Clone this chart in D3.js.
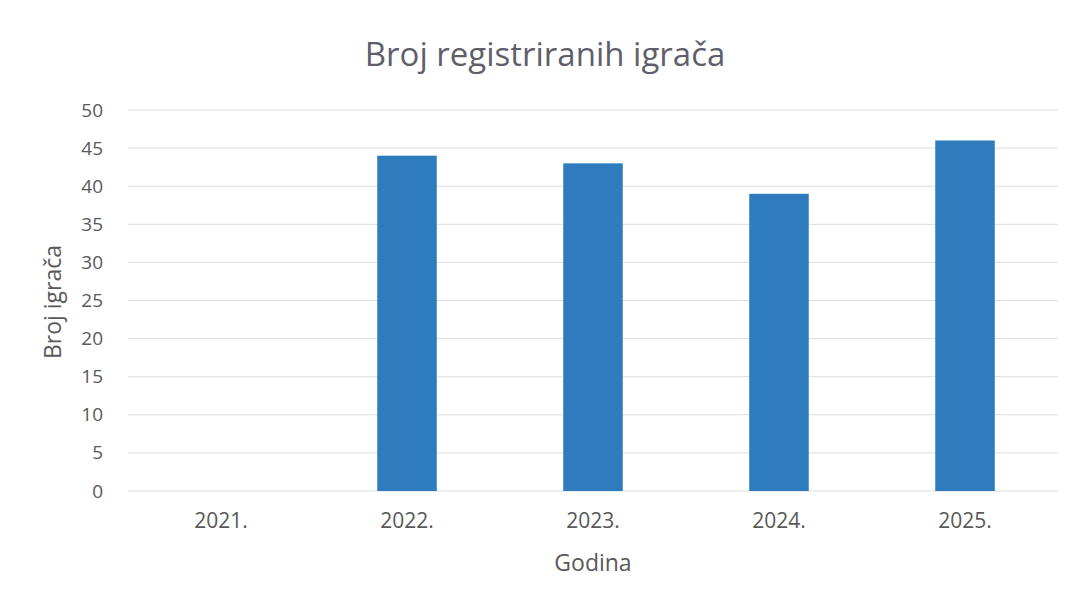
<!DOCTYPE html>
<html><head><meta charset="utf-8">
<script src="https://cdn.jsdelivr.net/npm/d3@7"></script>
<style>body{margin:0;background:#fff;}svg{display:block;}</style>
</head><body>
<script>
const categories = ["2021.", "2022.", "2023.", "2024.", "2025."];
const values = [0, 44, 43, 39, 46];
const yTicks = [0, 5, 10, 15, 20, 25, 30, 35, 40, 45, 50];
const title = "Broj registriranih igrača";
const xTitle = "Godina";
const yTitle = "Broj igrača";

const W = 1079, H = 608;
const m = {left: 128, right: 21, top: 110, bottom: 117};
const svg = d3.select("body").append("svg").attr("width", W).attr("height", H);
const font = "'Open Sans', Roboto, sans-serif";
const textCol = "#595959";

const x = d3.scaleBand().domain(categories).range([m.left, W - m.right]).paddingInner(0.68).paddingOuter(0.34);
const y = d3.scaleLinear().domain([0, 50]).range([H - m.bottom, m.top]);

// gridlines
svg.append("g").selectAll("line").data(yTicks).join("line")
  .attr("x1", m.left).attr("x2", W - m.right)
  .attr("y1", d => y(d)).attr("y2", d => y(d))
  .attr("stroke", "#dcdce2").attr("stroke-width", 1);

// y axis
const ya = svg.append("g").attr("transform", `translate(${m.left},0)`)
  .call(d3.axisLeft(y).tickValues(yTicks).tickSize(0).tickPadding(25));
ya.select(".domain").remove();
ya.selectAll("text").attr("font-family", font).attr("font-size", 19).attr("fill", textCol);

// x axis
const xa = svg.append("g").attr("transform", `translate(0,${H - m.bottom})`)
  .call(d3.axisBottom(x).tickSize(0).tickPadding(22));
xa.select(".domain").remove();
xa.selectAll("text").attr("font-family", font).attr("font-size", 21).attr("fill", textCol);

// bars
svg.append("g").selectAll("rect").data(values).join("rect")
  .attr("x", (d, i) => x(categories[i]))
  .attr("width", x.bandwidth())
  .attr("y", d => y(d))
  .attr("height", d => y(0) - y(d))
  .attr("fill", "#2e7bbd");

// title
svg.append("text").attr("x", 545).attr("y", 66).attr("text-anchor", "middle")
  .attr("font-family", font).attr("font-size", 33).attr("fill", "#5f5f6b").text(title);
// x title
svg.append("text").attr("x", 593).attr("y", 571).attr("text-anchor", "middle")
  .attr("font-family", font).attr("font-size", 23).attr("fill", textCol).text(xTitle);
// y title
svg.append("text").attr("transform", "translate(61,302) rotate(-90)").attr("text-anchor", "middle")
  .attr("font-family", font).attr("font-size", 23).attr("fill", textCol).text(yTitle);
</script>
</body></html>
